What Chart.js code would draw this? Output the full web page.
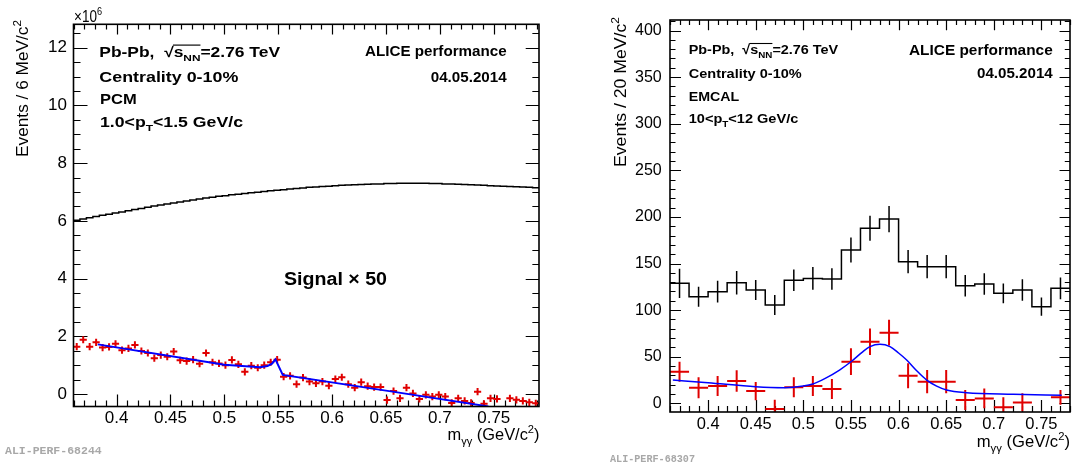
<!DOCTYPE html>
<html>
<head>
<meta charset="utf-8">
<script src="https://cdn.jsdelivr.net/npm/chart.js@4.4.1/dist/chart.umd.min.js"></script>
<style>
html, body { margin: 0; padding: 0; background: #fff; }
#wrap { position: relative; width: 1078px; height: 463px; overflow: hidden; }
canvas { position: absolute; top: 0; }
#pcm { left: 0; }
#emc { left: 545px; }
</style>
</head>
<body>
<div id="wrap">
  <canvas id="pcm" width="545" height="463" style="width:545px;height:463px"></canvas>
  <canvas id="emc" width="533" height="463" style="width:533px;height:463px"></canvas>
</div>
<script>
// ======================
// DATA
// ======================

// tick labels
var xTickValues = [0.4, 0.45, 0.5, 0.55, 0.6, 0.65, 0.7, 0.75];
var pcmYTicks = [0, 2, 4, 6, 8, 10, 12];          // x10^6
var emcYTicks = [0, 50, 100, 150, 200, 250, 300, 350, 400];

// PCM panel, 6 MeV bins starting at 0.360
var pcmBinLow = 0.360;
var pcmBinWidth = 0.006;
// signal x 50 (red), in units of 10^6
var pcmSignal = [1.64, 1.88, 1.64, 1.79, 1.61, 1.63, 1.74, 1.52, 1.58, 1.70, 1.49, 1.42,
                 1.24, 1.35, 1.29, 1.47, 1.17, 1.14, 1.19, 1.05, 1.42, 1.10, 1.06, 1.00,
                 1.18, 1.03, 0.77, 0.98, 0.91, 1.00, 1.10, 1.19, 0.60, 0.63, 0.34, 0.57,
                 0.43, 0.37, 0.43, 0.29, 0.52, 0.58, 0.34, 0.22, 0.41, 0.27, 0.24, 0.24,
                 -0.21, 0.10, -0.15, 0.22, 0.02, -0.17, -0.03, -0.09, -0.03, -0.09, -0.31, -0.15,
                 -0.24, -0.31, 0.08, -0.34, -0.15, -0.17, null, -0.15, -0.20, -0.24, -0.29, -0.32];
// same event distribution (black), in units of 10^6
var pcmSame = [6.02, 6.06, 6.11, 6.15, 6.19, 6.23, 6.27, 6.31, 6.35, 6.39, 6.43, 6.47,
               6.51, 6.55, 6.58, 6.62, 6.65, 6.69, 6.72, 6.76, 6.79, 6.82, 6.85, 6.87,
               6.90, 6.92, 6.95, 6.97, 6.99, 7.02, 7.04, 7.06, 7.08, 7.10, 7.12, 7.14,
               7.16, 7.17, 7.19, 7.20, 7.22, 7.23, 7.24, 7.25, 7.26, 7.27, 7.28, 7.28,
               7.29, 7.29, 7.30, 7.30, 7.30, 7.30, 7.30, 7.29, 7.29, 7.28, 7.28, 7.27,
               7.26, 7.25, 7.24, 7.23, 7.22, 7.21, 7.20, 7.19, 7.18, 7.17, 7.16, 7.15];
// fit (blue)
var pcmFitX = [0.3825, 0.500, 0.533, 0.540, 0.544, 0.5474, 0.5542, 0.653, 0.745];
var pcmFitY = [1.72, 1.01, 0.93, 0.97, 1.04, 1.20, 0.66, 0.10, -0.43];

// EMCAL panel, 20 MeV bins starting at 0.36
var emcBinLow = 0.36;
var emcBinWidth = 0.02;
var emcSame = [128.8, 114.4, 119.8, 129.4, 121.6, 105.5, 132.0, 134.0, 133.4, 164.5, 187.8,
               197.7, 152.0, 146.6, 146.6, 126.2, 128.0, 118.0, 121.6, 103.7, 123.4];
var emcSameErr = [15.7, 10.7, 11.6, 12.5, 10.7, 10.7, 11.6, 12.2, 11.6, 13.4, 13.4,
                  14.1, 12.5, 12.5, 12.5, 11.6, 11.6, 10.7, 11.6, 9.8, 11.6];
var emcSignal = [33.9, 16.8, 18.6, 23.9, 13.2, -6.1, 17.2, 18.6, 15.3, 44.7, 66.1,
                 75.8, 29.6, 23.2, 23.2, 3.5, 5.3, -4.3, 1.0, null, 6.4];
var emcSignalErr = [10.7, 11.3, 10.7, 11.6, 9.8, 10.0, 10.7, 10.7, 10.7, 14.3, 14.3,
                    13.8, 13.4, 12.5, 12.5, 10.7, 10.7, 10.7, 9.8, 10.0, 8.0];
var emcFitX = [0.363, 0.40, 0.45, 0.48, 0.50, 0.51, 0.523, 0.538, 0.551, 0.562, 0.570,
               0.5805, 0.591, 0.600, 0.6085, 0.619, 0.6295, 0.640, 0.6505, 0.6715, 0.7205, 0.7713];
var emcFitY = [25.0, 22.1, 17.8, 16.8, 18.5, 20.7, 26.8, 35.7, 45.4, 55.0, 60.8,
               63.3, 60.8, 54.0, 46.5, 35.0, 25.0, 18.5, 14.3, 11.4, 9.7, 8.6];

// =================
// HELPER FUNCTIONS
// =================
var FONT = '"Liberation Sans", Arial, Helvetica, sans-serif';
var MONO = '"Liberation Mono", "DejaVu Sans Mono", monospace';

function binCenters(low, width, n) {
    var out = [];
    for (var i = 0; i < n; i++) out.push(+(low + (i + 0.5) * width).toFixed(4));
    return out;
}

// step histogram: lower edges + closing upper edge
function stepPoints(low, width, values) {
    var pts = values.map(function (v, i) { return { x: +(low + i * width).toFixed(4), y: v }; });
    pts.push({ x: +(low + values.length * width).toFixed(4), y: values[values.length - 1] });
    return pts;
}

function xy(xs, ys) {
    return xs.map(function (x, i) { return { x: x, y: ys[i] }; });
}

function fmtTick(v) { return String(+Number(v).toFixed(2)); }

// text with sub/superscripts; parts = [[text, kind]], kind: '' | 'sub' | 'sup' | 'ov' | 'subov'
function drawRich(ctx, ox, parts, o) {
    var size = o.size;
    var weight = o.bold ? 'bold ' : '';
    var fam = o.family || FONT;
    function fontFor(k) {
        var small = (k === 'sub' || k === 'sup' || k === 'subov');
        return weight + (small ? size * 0.68 : size) + 'px ' + fam;
    }
    var total = 0;
    var widths = parts.map(function (p) {
        ctx.font = fontFor(p[1]);
        var w = ctx.measureText(p[0]).width;
        total += w;
        return w;
    });
    var sx = o.w ? o.w / total : 1;
    ctx.save();
    ctx.translate(o.x - ox, o.y);
    if (o.rot) ctx.rotate(-Math.PI / 2);
    if (o.align === 'right') ctx.translate(-total * sx, 0);
    ctx.scale(sx, 1);
    ctx.fillStyle = o.color || '#000';
    ctx.textAlign = 'left';
    ctx.textBaseline = 'alphabetic';
    var cx = 0, ovStart = null, ovEnd = null;
    parts.forEach(function (p, i) {
        ctx.font = fontFor(p[1]);
        var dy = 0;
        if (p[1] === 'sub' || p[1] === 'subov') dy = size * 0.28;
        if (p[1] === 'sup') dy = -size * 0.42;
        ctx.fillText(p[0], cx, dy);
        if (p[1] === 'ov' || p[1] === 'subov') {
            if (ovStart === null) ovStart = cx;
            ovEnd = cx + widths[i];
        }
        cx += widths[i];
    });
    if (ovStart !== null) {
        ctx.strokeStyle = ctx.fillStyle;
        ctx.lineWidth = size * 0.08;
        ctx.beginPath();
        ctx.moveTo(ovStart - size * 0.04, -size * 0.8);
        ctx.lineTo(ovEnd, -size * 0.8);
        ctx.stroke();
    }
    ctx.restore();
}

function drawErrorBars(chart, xs, ys, ex, ey, color, lw) {
    var ctx = chart.ctx, sx = chart.scales.x, sy = chart.scales.y, a = chart.chartArea;
    ctx.save();
    ctx.beginPath();
    ctx.rect(a.left, a.top, a.right - a.left, a.bottom - a.top);
    ctx.clip();
    ctx.strokeStyle = color;
    ctx.lineWidth = lw;
    ctx.beginPath();
    for (var i = 0; i < xs.length; i++) {
        if (ys[i] === null) continue;
        var px = sx.getPixelForValue(xs[i]);
        var py = sy.getPixelForValue(ys[i]);
        if (ex) {
            ctx.moveTo(sx.getPixelForValue(xs[i] - ex), py);
            ctx.lineTo(sx.getPixelForValue(xs[i] + ex), py);
        }
        if (ey) {
            ctx.moveTo(px, sy.getPixelForValue(ys[i] - ey[i]));
            ctx.lineTo(px, sy.getPixelForValue(ys[i] + ey[i]));
        }
    }
    ctx.stroke();
    ctx.restore();
}

// ROOT style inward ticks on all four sides (drawn under the data)
function drawTicks(chart, t) {
    var ctx = chart.ctx, a = chart.chartArea, sx = chart.scales.x, sy = chart.scales.y;
    ctx.save();
    ctx.strokeStyle = '#000';
    ctx.lineWidth = 1.2;
    ctx.beginPath();
    var i, v, major, len, p;
    for (i = Math.ceil(sx.min / t.xMinor - 1e-6); i * t.xMinor <= sx.max + 1e-9; i++) {
        v = i * t.xMinor;
        major = Math.abs(v / t.xMajor - Math.round(v / t.xMajor)) < 1e-6;
        len = major ? t.xMajLen : t.xMinLen;
        p = Math.round(sx.getPixelForValue(v)) + 0.5;
        ctx.moveTo(p, a.bottom); ctx.lineTo(p, a.bottom - len);
        ctx.moveTo(p, a.top); ctx.lineTo(p, a.top + len * 0.85);
    }
    for (i = Math.ceil(sy.min / t.yMinor - 1e-6); i * t.yMinor <= sy.max + 1e-9; i++) {
        v = i * t.yMinor;
        major = Math.abs(v / t.yMajor - Math.round(v / t.yMajor)) < 1e-6;
        len = major ? t.yMajLen : t.yMinLen;
        p = Math.round(sy.getPixelForValue(v)) + 0.5;
        ctx.moveTo(a.left, p); ctx.lineTo(a.left + len, p);
        ctx.moveTo(a.right, p); ctx.lineTo(a.right - len * 0.95, p);
    }
    ctx.stroke();
    ctx.restore();
}

function drawBox(chart) {
    var ctx = chart.ctx, a = chart.chartArea;
    ctx.save();
    ctx.strokeStyle = '#000';
    ctx.lineWidth = 1.6;
    ctx.strokeRect(a.left, a.top, a.right - a.left, a.bottom - a.top);
    ctx.restore();
}

function axisOptions(o) {
    return {
        type: 'linear',
        min: o.min,
        max: o.max,
        bounds: 'data',
        grid: { display: false, drawTicks: false },
        border: { display: false },
        afterBuildTicks: function (scale) {
            scale.ticks = o.ticks.map(function (v) { return { value: v }; });
        },
        afterFit: function (scale) {
            if (o.width !== undefined) scale.width = o.width;
            if (o.height !== undefined) scale.height = o.height;
            scale.paddingTop = 0; scale.paddingBottom = 0;
            scale.paddingLeft = 0; scale.paddingRight = 0;
        },
        ticks: {
            autoSkip: false,
            maxRotation: 0,
            padding: o.padding,
            color: '#000',
            font: { family: FONT, size: o.fontSize },
            callback: function (v) { return fmtTick(v); }
        }
    };
}

// ===========
// PCM PANEL
// ===========
var pcmCenters = binCenters(pcmBinLow, pcmBinWidth, pcmSignal.length);

var pcmPlugin = {
    id: 'pcmDecor',
    beforeDatasetsDraw: function (chart) {
        drawTicks(chart, { xMinor: 0.01, xMajor: 0.05, xMajLen: 12, xMinLen: 6,
                           yMinor: 0.5, yMajor: 2, yMajLen: 14, yMinLen: 7 });
    },
    afterDraw: function (chart) {
        var ctx = chart.ctx;
        drawBox(chart);
        var B = { bold: true, size: 14.5 };
        drawRich(ctx, 0, [['Pb-Pb,  ', ''], ['\u221A', ''], ['s', 'ov'], ['NN', 'subov'], ['=2.76 TeV', '']],
                 Object.assign({ x: 99.3, y: 56.7, w: 180.7 }, B));
        drawRich(ctx, 0, [['Centrality 0-10%', '']], Object.assign({ x: 99.3, y: 81.7, w: 139 }, B));
        drawRich(ctx, 0, [['PCM', '']], Object.assign({ x: 100, y: 104, w: 36.7 }, B));
        drawRich(ctx, 0, [['1.0<p', ''], ['T', 'sub'], ['<1.5 GeV/c', '']],
                 Object.assign({ x: 100, y: 126.7, w: 143 }, B));
        drawRich(ctx, 0, [['ALICE performance', '']], Object.assign({ x: 506.7, y: 56, w: 141.7, align: 'right' }, B));
        drawRich(ctx, 0, [['04.05.2014', '']], Object.assign({ x: 506.7, y: 81.7, w: 76, align: 'right' }, B));
        drawRich(ctx, 0, [['Signal \u00D7 50', '']], { x: 284, y: 285, size: 18, bold: true, w: 103 });
        drawRich(ctx, 0, [['\u00D710', ''], ['6', 'sup']], { x: 74, y: 21.7, size: 16, w: 28 });
        drawRich(ctx, 0, [['Events / 6 MeV/c', ''], ['2', 'sup']],
                 { x: 28, y: 20, size: 17, w: 137, rot: true, align: 'right' });
        drawRich(ctx, 0, [['m', ''], ['\u03B3\u03B3', 'sub'], [' (GeV/c', ''], ['2', 'sup'], [')', '']],
                 { x: 539.5, y: 440, size: 17, w: 92, align: 'right' });
        drawRich(ctx, 0, [['ALI-PERF-68244', '']],
                 { x: 5, y: 454, size: 11.5, bold: true, family: MONO, color: '#a8a8a8', w: 96.7 });
    }
};

var pcmChart = new Chart(document.getElementById('pcm'), {
    type: 'line',
    data: {
        datasets: [
            {
                label: 'fit',
                data: xy(pcmFitX, pcmFitY),
                borderColor: '#0000ff',
                borderWidth: 2,
                pointRadius: 0,
                tension: 0,
                order: 0
            },
            {
                label: 'signal x 50',
                data: xy(pcmCenters, pcmSignal),
                showLine: false,
                pointStyle: 'cross',
                pointRadius: 3.6,
                pointBorderColor: '#e00000',
                pointBorderWidth: 2,
                borderColor: '#e00000',
                order: 1
            },
            {
                label: 'same event',
                data: stepPoints(pcmBinLow, pcmBinWidth, pcmSame),
                stepped: 'before',
                borderColor: '#000',
                borderWidth: 1.5,
                pointRadius: 0,
                order: 2
            }
        ]
    },
    options: {
        responsive: false,
        animation: false,
        devicePixelRatio: 1,
        layout: { padding: { top: 24.3, right: 5.5, left: 0, bottom: 0 } },
        plugins: { legend: { display: false }, tooltip: { enabled: false } },
        scales: {
            x: axisOptions({ min: 0.36, max: 0.792, ticks: xTickValues, height: 56.5, padding: 1.5, fontSize: 17 }),
            y: axisOptions({ min: -0.433, max: 12.81, ticks: pcmYTicks, width: 73.5, padding: 6.5, fontSize: 17 })
        }
    },
    plugins: [pcmPlugin]
});

// =============
// EMCAL PANEL
// =============
var emcCenters = binCenters(emcBinLow, emcBinWidth, emcSame.length);
var EMC_OX = 545;

var emcPlugin = {
    id: 'emcDecor',
    beforeDatasetsDraw: function (chart) {
        drawTicks(chart, { xMinor: 0.01, xMajor: 0.05, xMajLen: 12, xMinLen: 6,
                           yMinor: 10, yMajor: 50, yMajLen: 11, yMinLen: 5.5 });
        drawErrorBars(chart, emcCenters, emcSame, 0, emcSameErr, '#000', 1.5);
        drawErrorBars(chart, emcCenters, emcSignal, emcBinWidth / 2, emcSignalErr, '#e00000', 2);
    },
    afterDraw: function (chart) {
        var ctx = chart.ctx;
        drawBox(chart);
        var B = { bold: true, size: 13.5 };
        drawRich(ctx, EMC_OX, [['Pb-Pb,  ', ''], ['\u221A', ''], ['s', 'ov'], ['NN', 'subov'], ['=2.76 TeV', '']],
                 Object.assign({ x: 688.7, y: 54.3, w: 149.5 }, B));
        drawRich(ctx, EMC_OX, [['Centrality 0-10%', '']], Object.assign({ x: 688.7, y: 78.3, w: 113 }, B));
        drawRich(ctx, EMC_OX, [['EMCAL', '']], Object.assign({ x: 688.7, y: 101, w: 50.6 }, B));
        drawRich(ctx, EMC_OX, [['10<p', ''], ['T', 'sub'], ['<12 GeV/c', '']],
                 Object.assign({ x: 688.7, y: 123.3, w: 109.6 }, B));
        drawRich(ctx, EMC_OX, [['ALICE performance', '']],
                 { x: 1052.7, y: 55, size: 14.5, bold: true, w: 143.7, align: 'right' });
        drawRich(ctx, EMC_OX, [['04.05.2014', '']],
                 { x: 1052.7, y: 78.3, size: 14.5, bold: true, w: 75.7, align: 'right' });
        drawRich(ctx, EMC_OX, [['Events / 20 MeV/c', ''], ['2', 'sup']],
                 { x: 626, y: 17, size: 17, w: 150, rot: true, align: 'right' });
        drawRich(ctx, EMC_OX, [['m', ''], ['\u03B3\u03B3', 'sub'], [' (GeV/c', ''], ['2', 'sup'], [')', '']],
                 { x: 1070, y: 447, size: 17, w: 93.3, align: 'right' });
        drawRich(ctx, EMC_OX, [['ALI-PERF-68307', '']],
                 { x: 610, y: 461.5, size: 10, bold: true, family: MONO, color: '#a8a8a8', w: 85 });
    }
};

var emcChart = new Chart(document.getElementById('emc'), {
    type: 'line',
    data: {
        datasets: [
            {
                label: 'fit',
                data: xy(emcFitX, emcFitY),
                borderColor: '#0000ff',
                borderWidth: 1.5,
                pointRadius: 0,
                cubicInterpolationMode: 'monotone',
                order: 0
            },
            {
                label: 'signal',
                data: xy(emcCenters, emcSignal),
                showLine: false,
                pointRadius: 0,
                borderColor: '#e00000',
                order: 1
            },
            {
                label: 'same event',
                data: stepPoints(emcBinLow, emcBinWidth, emcSame),
                stepped: 'before',
                borderColor: '#000',
                borderWidth: 1.5,
                pointRadius: 0,
                order: 2
            }
        ]
    },
    options: {
        responsive: false,
        animation: false,
        devicePixelRatio: 1,
        layout: { padding: { top: 20, right: 8, left: 0, bottom: 0 } },
        plugins: { legend: { display: false }, tooltip: { enabled: false } },
        scales: {
            x: axisOptions({ min: 0.36, max: 0.78, ticks: xTickValues, height: 51, padding: 2.3, fontSize: 16.5 }),
            y: axisOptions({ min: -9.3, max: 411.3, ticks: emcYTicks, width: 125, padding: 8.3, fontSize: 16 })
        }
    },
    plugins: [emcPlugin]
});
</script>
</body>
</html>
